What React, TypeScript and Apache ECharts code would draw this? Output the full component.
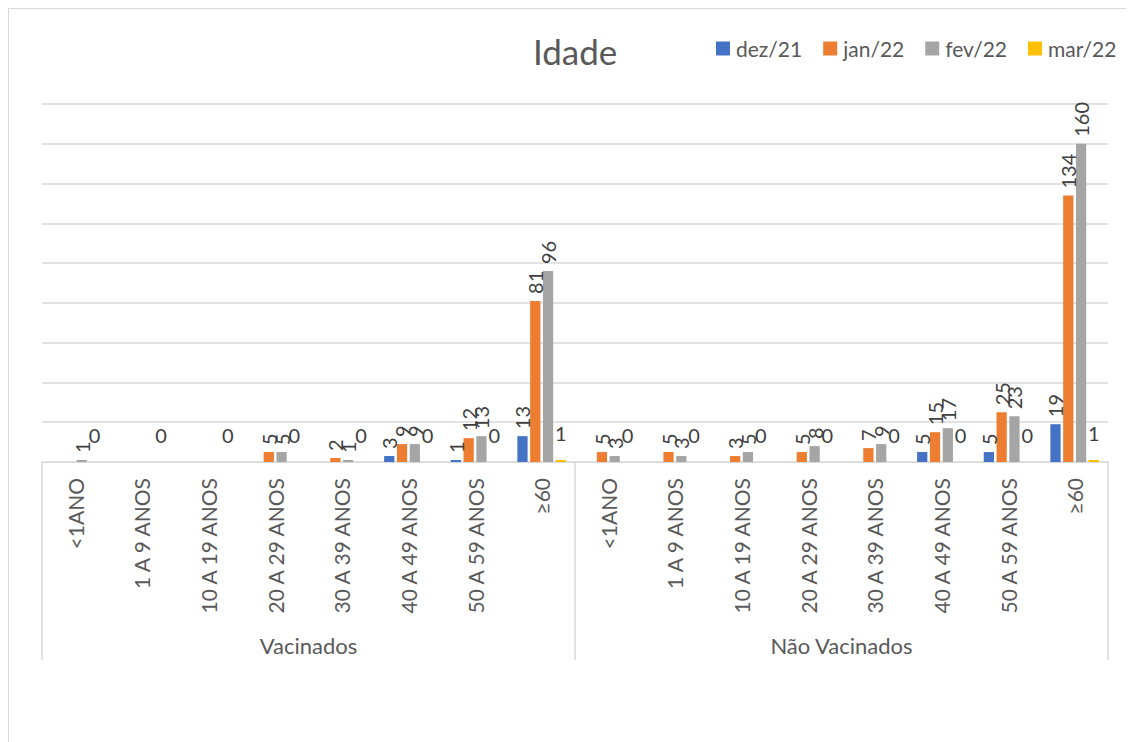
import React, { useEffect, useRef } from "react";
import * as echarts from "echarts";

const ageGroups = ["<1ANO", "1 A 9 ANOS", "10 A 19 ANOS", "20 A 29 ANOS", "30 A 39 ANOS", "40 A 49 ANOS", "50 A 59 ANOS", "≥60"];
const groups = ["Vacinados", "Não Vacinados"];
const categories = [...ageGroups, ...ageGroups];
const seriesNames = ["dez/21", "jan/22", "fev/22", "mar/22"];
const dez21 = [null, null, null, null, null, 3, 1, 13, null, null, null, null, null, 5, 5, 19];
const jan22 = [null, null, null, 5, 2, 9, 12, 81, 5, 5, 3, 5, 7, 15, 25, 134];
const fev22 = [1, null, null, 5, 1, 9, 13, 96, 3, 3, 5, 8, 9, 17, 23, 160];
const mar22 = [0, 0, 0, 0, 0, 0, 0, 1, 0, 0, 0, 0, 0, 0, 0, 1];
const colors = ["#4472C4", "#ED7D31", "#A5A5A5", "#FFC000"];

const FONT = "Lato, 'Noto Sans', sans-serif";

export default function App() {
  const ref = useRef<HTMLDivElement>(null);
  useEffect(() => {
    if (!ref.current) return;
    const chart = echarts.init(ref.current, undefined, { renderer: "svg" });
    const rotLabel = {
      show: true,
      position: "top",
      rotate: 90,
      align: "left",
      verticalAlign: "middle",
      distance: 7,
      color: "#404040",
      fontSize: 20,
      fontFamily: FONT,
    };
    const datas = [dez21, jan22, fev22, mar22];
    const series = datas.map((d, i) => ({
      name: seriesNames[i],
      type: "bar",
      data: d.map((v) => (v === null ? "-" : v)),
      itemStyle: { color: colors[i] },
      barGap: "25%",
      barCategoryGap: "27%",
      xAxisIndex: 0,
      label:
        i === 3
          ? { show: true, position: "top", distance: 17, color: "#404040", fontSize: 20, fontFamily: FONT }
          : rotLabel,
    }));
    chart.setOption({
      animation: false,
      textStyle: { fontFamily: FONT },
      title: {
        text: "Idade",
        left: 524,
        top: 24,
        padding: 0,
        textStyle: { color: "#595959", fontSize: 35, fontWeight: "normal", fontFamily: FONT },
      },
      legend: {
        data: seriesNames,
        left: 707,
        top: 29,
        padding: 0,
        itemWidth: 14,
        itemHeight: 14,
        itemGap: 21,
        icon: "rect",
        textStyle: { color: "#595959", fontSize: 21, fontFamily: FONT, padding: [0, 0, 0, 1] },
      },
      grid: { left: 33, top: 95, width: 1066, height: 358, containLabel: false },
      xAxis: [
        {
          type: "category",
          data: categories,
          position: "bottom",
          axisLine: { show: true, lineStyle: { color: "#d9d9d9", width: 1 } },
          axisTick: { show: false },
          axisLabel: {
            interval: 0,
            rotate: 90,
            margin: 16,
            color: "#595959",
            fontSize: 21,
            fontFamily: FONT,
          },
        },
        {
          type: "category",
          data: groups,
          position: "bottom",
          offset: 0,
          axisLine: { show: false },
          axisTick: { show: true, interval: 0, length: 198, lineStyle: { color: "#d9d9d9", width: 1.5 } },
          axisLabel: { interval: 0, margin: 172, color: "#595959", fontSize: 22, fontFamily: FONT },
        },
      ],
      yAxis: {
        type: "value",
        min: 0,
        max: 180,
        interval: 20,
        axisLabel: { show: false },
        axisLine: { show: false },
        axisTick: { show: false },
        splitLine: { lineStyle: { color: "#d9d9d9", width: 1.5 } },
      },
      series,
    });
    return () => chart.dispose();
  }, []);
  return (
    <div style={{ border: "1px solid #d9d9d9", width: 1130, height: 740, background: "#fff" }}>
      <div ref={ref} style={{ width: 1130, height: 740 }} />
    </div>
  );
}
